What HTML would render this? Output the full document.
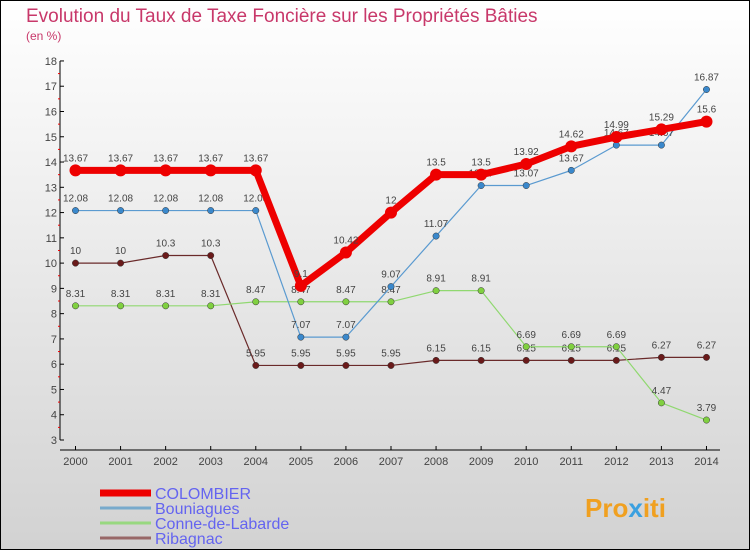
<!DOCTYPE html>
<html><head><meta charset="utf-8"><style>
body{margin:0}
#c{width:750px;height:550px;position:relative;overflow:hidden}
svg text{font-family:"Liberation Sans",sans-serif}
</style></head><body>
<div id="c">
<svg id="s" width="750" height="550" xmlns="http://www.w3.org/2000/svg">
<defs><linearGradient id="bg" x1="0" y1="0" x2="0" y2="1"><stop offset="0" stop-color="#ffffff"/><stop offset="1" stop-color="#d2d2d2"/></linearGradient></defs>
<rect x="0.5" y="0.5" width="749" height="549" fill="url(#bg)" stroke="#000"/>
<text x="26" y="22" font-size="19" fill="#c8386a">Evolution du Taux de Taxe Foncière sur les Propriétés Bâties</text>
<text x="26" y="40" font-size="12" fill="#c8386a">(en %)</text>
<g id="axes"></g><g id="series"></g><g id="legend"></g>
<text x="585" y="517" font-size="26" font-weight="bold" fill="#f0a020">Pro<tspan fill="#3aa0e0">x</tspan>iti</text>
</svg></div>
<script>
const years=[2000,2001,2002,2003,2004,2005,2006,2007,2008,2009,2010,2011,2012,2013,2014];
const yTicks=[3,4,5,6,7,8,9,10,11,12,13,14,15,16,17,18];
const colombier=[13.67,13.67,13.67,13.67,13.67,9.1,10.42,12,13.5,13.5,13.92,14.62,14.99,15.29,15.6];
const bouniagues=[12.08,12.08,12.08,12.08,12.08,7.07,7.07,9.07,11.07,13.07,13.07,13.67,14.67,14.67,16.87];
const conne=[8.31,8.31,8.31,8.31,8.47,8.47,8.47,8.47,8.91,8.91,6.69,6.69,6.69,4.47,3.79];
const ribagnac=[10,10,10.3,10.3,5.95,5.95,5.95,5.95,6.15,6.15,6.15,6.15,6.15,6.27,6.27];
const names=["COLOMBIER","Bouniagues","Conne-de-Labarde","Ribagnac"];
const NS="http://www.w3.org/2000/svg";
const X=i=>75.5+i*45.07, Y=v=>440-(v-3)*25.27;
function mk(t,a,p){const e=document.createElementNS(NS,t);for(const k in a)e.setAttribute(k,a[k]);p.appendChild(e);return e;}
const ax=document.getElementById('axes');
const yl=mk('line',{x1:60,y1:Y(18),x2:60,y2:Y(3),stroke:'#000'},ax);


const xl=mk('line',{x1:60,y1:450,x2:720,y2:450,stroke:'#000'},ax);


yTicks.forEach(v=>{mk('line',{x1:60,y1:Y(v),x2:64,y2:Y(v),stroke:'#000'},ax);
 if(v<18)mk('line',{x1:58,y1:Y(v+0.5),x2:60,y2:Y(v+0.5),stroke:'#e00'},ax);
 const t=mk('text',{x:57,y:Y(v)+4,'font-size':11,fill:'#444','text-anchor':'end'},ax);t.textContent=v;
 
 });
years.forEach((y,i)=>{mk('line',{x1:X(i),y1:446,x2:X(i),y2:450,stroke:'#000'},ax);
 const t=mk('text',{x:X(i),y:465,'font-size':11,fill:'#444','text-anchor':'middle'},ax);t.textContent=y;
 
 });
const sg=document.getElementById('series');
const styles=[
 {d:ribagnac,c:'#6a2a2a',w:1.2,f:'#6a1a1a',r:3.2,n:'ribagnac'},
 {d:conne,c:'#90d870',w:1.2,f:'#80d040',r:3.2,n:'conne-de-labarde'},
 {d:bouniagues,c:'#5a9ad0',w:1.2,f:'#3a88cc',r:3.2,n:'bouniagues'},
 {d:colombier,c:'#ee0000',w:7,f:'#ee0000',r:6,n:'colombier'}];
styles.forEach(s=>{
 const g=mk('g',{},sg);
 
 
 mk('polyline',{points:s.d.map((v,i)=>X(i)+','+Y(v)).join(' '),fill:'none',stroke:s.c,'stroke-width':s.w,'stroke-linejoin':'round'},g);
 s.d.forEach((v,i)=>{const p=mk('circle',{cx:X(i),cy:Y(v),r:s.r,fill:s.f,stroke:s.w>2?'none':'#333','stroke-width':0.5},g);
  
  
  const t=mk('text',{x:X(i),y:Y(v)-9,'font-size':10,fill:'#444','text-anchor':'middle'},g);t.textContent=v;
  
  });
});
const lg=document.getElementById('legend');
const lc=['#ee0000','#78aacc','#98d880','#986868'],lw=[7,3,3,3],ly=[498,513,528,543];
names.forEach((n,i)=>{
 const l=mk('line',{x1:100,y1:ly[i]-5,x2:151,y2:ly[i]-5,stroke:lc[i],'stroke-width':lw[i]},lg);
 
 
 const t=mk('text',{x:155,y:ly[i]+1,'font-size':16,fill:'#6464f0'},lg);t.textContent=n;
 
 });
</script></body></html>
